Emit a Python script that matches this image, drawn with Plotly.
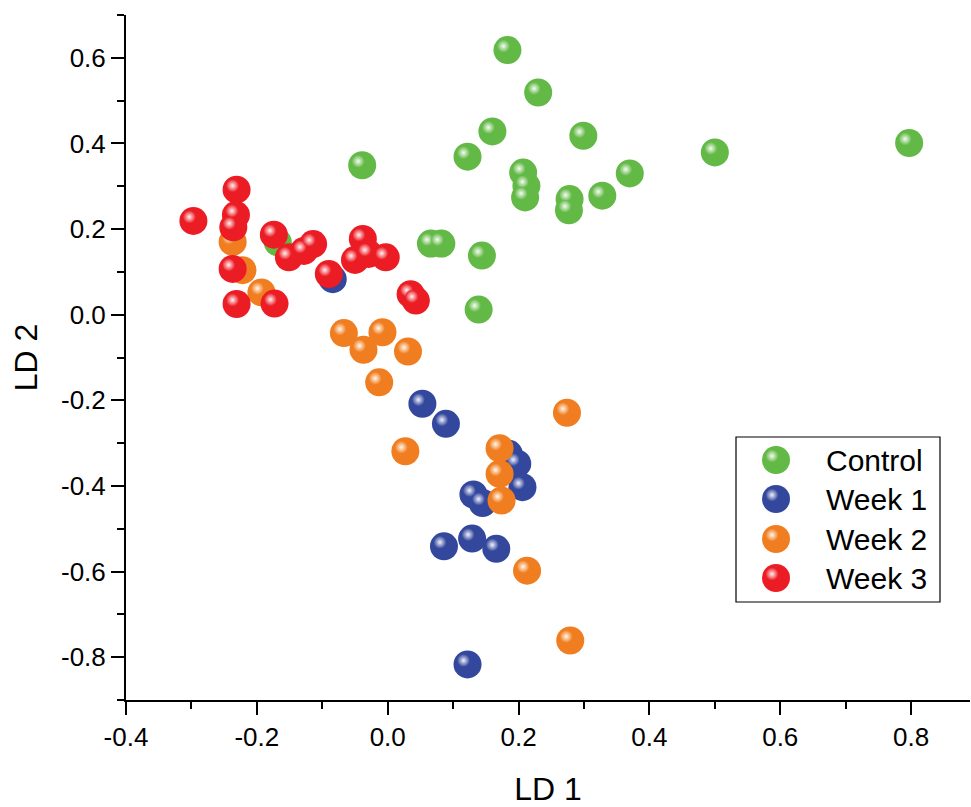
import plotly.graph_objects as go

# ---- data ----
control_x = [0.183, 0.230, 0.160, 0.122, 0.299, -0.039, 0.207, 0.212, 0.210, 0.278, 0.277, 0.328, 0.370, 0.500, 0.797, 0.066, 0.082, 0.144, 0.139, -0.168]
control_y = [0.618, 0.519, 0.428, 0.369, 0.418, 0.349, 0.332, 0.301, 0.274, 0.270, 0.244, 0.278, 0.330, 0.379, 0.401, 0.166, 0.166, 0.138, 0.012, 0.169]

week1_x = [0.053, 0.089, 0.185, 0.198, 0.206, 0.131, 0.145, 0.086, 0.129, 0.166, 0.122, -0.084]
week1_y = [-0.208, -0.255, -0.325, -0.348, -0.403, -0.420, -0.440, -0.541, -0.523, -0.547, -0.817, 0.083]

week2_x = [-0.067, -0.008, -0.037, 0.031, -0.013, 0.027, 0.274, 0.171, 0.171, 0.174, 0.213, 0.279, -0.237, -0.222, -0.193]
week2_y = [-0.043, -0.041, -0.082, -0.086, -0.158, -0.319, -0.229, -0.312, -0.372, -0.434, -0.598, -0.761, 0.170, 0.104, 0.052]

week3_x = [-0.231, -0.297, -0.232, -0.236, -0.174, -0.151, -0.128, -0.114, -0.237, -0.090, -0.038, -0.050, -0.029, -0.003, -0.231, -0.173, 0.035, 0.043]
week3_y = [0.292, 0.219, 0.233, 0.204, 0.187, 0.134, 0.149, 0.165, 0.107, 0.095, 0.177, 0.128, 0.142, 0.134, 0.025, 0.026, 0.048, 0.033]

series_names = ["Control", "Week 1", "Week 2", "Week 3"]
series_x = [control_x, week1_x, week2_x, week3_x]
series_y = [control_y, week1_y, week2_y, week3_y]

x_tickvals = [-0.4, -0.2, 0.0, 0.2, 0.4, 0.6, 0.8]
x_ticktext = ["-0.4", "-0.2", "0.0", "0.2", "0.4", "0.6", "0.8"]
y_tickvals = [-0.8, -0.6, -0.4, -0.2, 0.0, 0.2, 0.4, 0.6]
y_ticktext = ["-0.8", "-0.6", "-0.4", "-0.2", "0.0", "0.2", "0.4", "0.6"]

# ---- style ----
series_colors = ["#62b946", "#33479c", "#f07d1f", "#ec1c24"]
highlight_colors = ["#f5fbf2", "#f0f1fb", "#fff7ec", "#fff2f2"]
FONT = "Liberation Sans, Arial, sans-serif"

x_range = [-0.4, 0.89]
y_range = [-0.9, 0.7]

W, H = 971, 807
ML, MR, MT, MB = 126, 1, 15, 107
plot_w = W - ML - MR
plot_h = H - MT - MB
MSIZE = 28
# highlight offset (pixels) converted to data units
hx = -4 * (x_range[1] - x_range[0]) / plot_w
hy = 4 * (y_range[1] - y_range[0]) / plot_h

fig = go.Figure()
for name, xs, ys, col, hcol in zip(series_names, series_x, series_y, series_colors, highlight_colors):
    fig.add_trace(go.Scatter(
        x=xs, y=ys, mode="markers", name=name, showlegend=False,
        marker=dict(size=MSIZE, color=col, line=dict(width=0)),
    ))
    fig.add_trace(go.Scatter(
        x=[v + hx for v in xs], y=[v + hy for v in ys], mode="markers",
        showlegend=False, hoverinfo="skip",
        marker=dict(size=13, color=col, line=dict(width=0),
                    gradient=dict(type="radial", color=hcol)),
    ))

# ---- custom legend drawn on an overlay axis in pixel units ----
leg_box = dict(x0=736, x1=940, y0=437, y1=602)
leg_marker_x = 776
leg_text_x = 824
leg_rows_y = [460, 499, 539, 578]
for name, col, hcol, ly in zip(series_names, series_colors, highlight_colors, leg_rows_y):
    fig.add_trace(go.Scatter(
        x=[leg_marker_x], y=[ly], xaxis="x2", yaxis="y2", mode="markers",
        showlegend=False, hoverinfo="skip",
        marker=dict(size=MSIZE, color=col, line=dict(width=0)),
    ))
    fig.add_trace(go.Scatter(
        x=[leg_marker_x - 4], y=[ly - 4], xaxis="x2", yaxis="y2", mode="markers",
        showlegend=False, hoverinfo="skip",
        marker=dict(size=13, color=col, line=dict(width=0),
                    gradient=dict(type="radial", color=hcol)),
    ))
    fig.add_annotation(x=leg_text_x, y=ly, xref="x2", yref="y2", text=name,
                       showarrow=False, xanchor="left", yanchor="middle",
                       font=dict(family=FONT, size=30, color="black"))
fig.add_shape(type="rect", xref="x2", yref="y2", line=dict(color="black", width=1.2),
              fillcolor="rgba(0,0,0,0)", layer="below", **leg_box)

axis_common = dict(
    showline=True, linecolor="black", linewidth=2, mirror=False,
    ticks="outside", ticklen=13, tickwidth=2, tickcolor="black",
    showgrid=False, zeroline=False, automargin=False,
    tickfont=dict(family=FONT, size=26, color="black"),
    minor=dict(ticks="outside", ticklen=7, tickwidth=2, tickcolor="black", dtick=0.1),
)

fig.update_xaxes(range=x_range, tickvals=x_tickvals, ticktext=x_ticktext,
                 title=dict(text="LD 1", font=dict(family=FONT, size=32, color="black"), standoff=26),
                 **axis_common)
fig.update_yaxes(range=y_range, tickvals=y_tickvals, ticktext=y_ticktext,
                 title=dict(text="LD 2", font=dict(family=FONT, size=32, color="black"), standoff=14),
                 **axis_common)

fig.update_layout(
    width=W, height=H,
    margin=dict(l=ML, r=MR, t=MT, b=MB),
    plot_bgcolor="white", paper_bgcolor="white",
    font=dict(family=FONT, color="black"),
    showlegend=False,
    xaxis2=dict(overlaying="x", range=[ML, W - MR], visible=False, fixedrange=True),
    yaxis2=dict(overlaying="y", range=[H - MB, MT], visible=False, fixedrange=True),
)

fig.write_html("out.html", config={"displayModeBar": False},
               post_script="document.body.style.margin='0';")
